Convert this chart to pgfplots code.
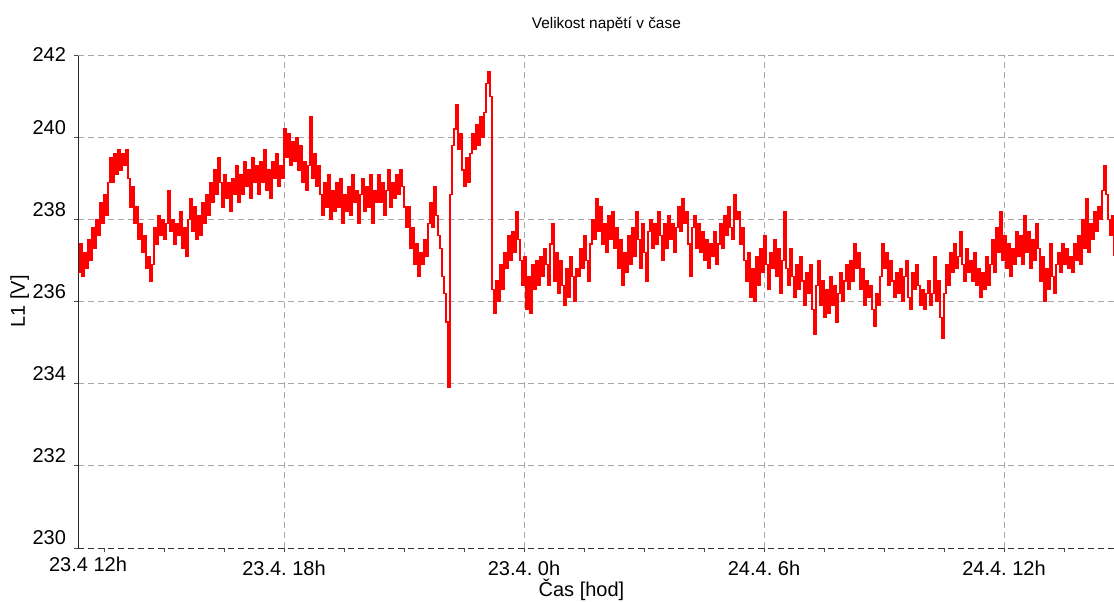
\documentclass[border=0pt]{standalone}
\usepackage{fontspec}
\setmainfont{Liberation Sans}
\usepackage{pgfplots}
\usepackage{pgfplotstable}
\pgfplotsset{compat=1.18}

% L1 voltage, one sample every 3 minutes from 23.4. 12:51
\pgfplotstableread[row sep=\\]{
v\\
236.7\\ 237.4\\ 236.6\\ 237.2\\ 236.8\\ 237.5\\ 237.0\\ 237.8\\ 237.3\\ 238.0\\
237.6\\ 238.4\\ 237.9\\ 238.6\\ 238.1\\ 238.9\\ 239.5\\ 238.9\\ 239.6\\ 239.1\\
239.7\\ 239.2\\ 239.6\\ 239.3\\ 239.7\\ 239.0\\ 238.3\\ 238.8\\ 237.9\\ 238.3\\
237.5\\ 237.9\\ 237.2\\ 237.6\\ 236.8\\ 237.1\\ 236.5\\ 236.9\\ 237.8\\ 237.4\\
238.1\\ 237.6\\ 238.0\\ 237.5\\ 237.9\\ 238.7\\ 237.7\\ 238.0\\ 237.4\\ 237.9\\
237.6\\ 238.2\\ 237.3\\ 237.8\\ 237.1\\ 238.0\\ 238.5\\ 237.7\\ 238.3\\ 237.5\\
238.1\\ 237.6\\ 238.4\\ 237.9\\ 238.6\\ 238.1\\ 238.9\\ 238.4\\ 239.2\\ 238.6\\
239.5\\ 238.9\\ 238.3\\ 239.1\\ 238.5\\ 238.9\\ 238.2\\ 239.0\\ 238.6\\ 239.3\\
238.4\\ 239.1\\ 238.6\\ 239.4\\ 238.8\\ 239.2\\ 238.5\\ 239.5\\ 238.9\\ 239.3\\
238.6\\ 239.4\\ 238.9\\ 239.7\\ 238.7\\ 239.2\\ 238.5\\ 239.4\\ 239.0\\ 239.6\\
238.8\\ 239.3\\ 239.0\\ 240.2\\ 239.5\\ 240.1\\ 239.3\\ 239.9\\ 239.4\\ 240.0\\
239.2\\ 239.8\\ 238.9\\ 239.4\\ 238.7\\ 239.3\\ 240.5\\ 239.0\\ 239.6\\ 238.8\\
239.3\\ 238.6\\ 238.1\\ 238.9\\ 238.3\\ 239.1\\ 238.0\\ 238.7\\ 238.2\\ 238.9\\
238.3\\ 239.0\\ 237.9\\ 238.6\\ 238.2\\ 238.8\\ 238.1\\ 239.1\\ 238.4\\ 238.7\\
237.9\\ 238.6\\ 239.0\\ 238.2\\ 238.8\\ 238.3\\ 239.1\\ 237.9\\ 238.7\\ 238.4\\
239.1\\ 238.4\\ 238.9\\ 238.1\\ 238.7\\ 239.2\\ 238.3\\ 238.9\\ 238.5\\ 239.1\\
238.6\\ 239.2\\ 238.8\\ 238.3\\ 237.8\\ 238.3\\ 237.3\\ 237.8\\ 236.9\\ 237.4\\
236.6\\ 237.2\\ 236.9\\ 237.5\\ 237.1\\ 237.9\\ 238.4\\ 237.8\\ 238.8\\ 238.1\\
237.6\\ 237.3\\ 236.6\\ 236.2\\ 235.5\\ 233.9\\ 238.6\\ 239.8\\ 240.2\\ 240.8\\
239.7\\ 240.1\\ 239.2\\ 238.8\\ 239.5\\ 238.9\\ 239.6\\ 240.1\\ 239.7\\ 240.3\\
239.8\\ 240.5\\ 240.0\\ 240.6\\ 241.3\\ 241.6\\ 241.0\\ 236.3\\ 235.7\\ 236.5\\
236.0\\ 236.9\\ 236.3\\ 237.2\\ 236.8\\ 237.6\\ 237.0\\ 237.7\\ 237.2\\ 238.2\\
237.5\\ 237.0\\ 236.4\\ 237.1\\ 235.8\\ 236.6\\ 235.7\\ 236.9\\ 236.3\\ 237.0\\
236.4\\ 237.1\\ 236.6\\ 237.3\\ 236.9\\ 236.4\\ 237.4\\ 237.9\\ 236.5\\ 237.2\\
236.2\\ 237.0\\ 236.4\\ 235.9\\ 236.8\\ 236.1\\ 237.1\\ 236.6\\ 236.0\\ 236.8\\
236.6\\ 237.3\\ 236.8\\ 237.6\\ 237.0\\ 236.5\\ 237.4\\ 238.0\\ 237.5\\ 238.5\\
237.7\\ 238.3\\ 237.4\\ 237.9\\ 237.2\\ 238.1\\ 237.5\\ 238.2\\ 237.3\\ 237.8\\
236.8\\ 237.5\\ 236.4\\ 237.2\\ 236.7\\ 237.6\\ 236.9\\ 237.8\\ 237.1\\ 238.2\\
237.5\\ 236.8\\ 237.9\\ 237.2\\ 236.5\\ 237.7\\ 238.0\\ 237.3\\ 237.9\\ 237.4\\
238.2\\ 237.6\\ 237.0\\ 237.9\\ 237.3\\ 238.1\\ 237.5\\ 237.9\\ 237.2\\ 237.8\\
238.3\\ 237.7\\ 238.5\\ 237.9\\ 238.2\\ 237.4\\ 236.6\\ 237.8\\ 238.1\\ 237.3\\
237.9\\ 237.2\\ 237.7\\ 237.0\\ 237.5\\ 236.8\\ 237.4\\ 237.1\\ 237.7\\ 236.9\\
237.4\\ 237.9\\ 237.3\\ 238.1\\ 237.6\\ 238.3\\ 237.8\\ 237.5\\ 238.6\\ 238.0\\
238.2\\ 237.4\\ 237.8\\ 237.0\\ 236.5\\ 237.2\\ 236.1\\ 236.8\\ 236.0\\ 237.1\\
236.4\\ 237.3\\ 236.7\\ 237.6\\ 236.9\\ 236.3\\ 237.2\\ 236.8\\ 237.5\\ 236.6\\
237.3\\ 236.2\\ 237.0\\ 238.2\\ 236.8\\ 236.4\\ 237.3\\ 236.6\\ 236.1\\ 236.9\\
236.3\\ 237.1\\ 236.5\\ 235.9\\ 236.7\\ 236.2\\ 236.9\\ 235.8\\ 235.2\\ 236.4\\
237.0\\ 235.9\\ 236.5\\ 235.6\\ 236.3\\ 235.7\\ 236.6\\ 235.9\\ 236.4\\ 235.5\\
236.2\\ 236.7\\ 236.0\\ 236.5\\ 236.9\\ 236.3\\ 237.0\\ 236.5\\ 237.4\\ 236.8\\
237.2\\ 236.3\\ 236.8\\ 235.9\\ 236.5\\ 236.1\\ 236.4\\ 235.8\\ 235.4\\ 236.2\\
235.9\\ 236.6\\ 237.4\\ 236.8\\ 237.2\\ 236.4\\ 237.0\\ 236.5\\ 236.1\\ 236.7\\
236.2\\ 236.8\\ 236.0\\ 236.6\\ 237.0\\ 236.1\\ 235.8\\ 236.7\\ 236.3\\ 236.9\\
236.4\\ 235.9\\ 236.3\\ 235.8\\ 236.2\\ 236.5\\ 235.9\\ 236.2\\ 237.1\\ 236.0\\
236.5\\ 235.6\\ 235.1\\ 236.2\\ 236.9\\ 236.4\\ 237.2\\ 236.7\\ 237.4\\ 236.8\\
237.1\\ 237.7\\ 236.9\\ 236.5\\ 237.3\\ 236.7\\ 237.0\\ 236.5\\ 237.2\\ 236.4\\
236.8\\ 236.1\\ 236.7\\ 236.3\\ 237.1\\ 236.4\\ 236.9\\ 237.5\\ 236.7\\ 237.8\\
237.2\\ 238.2\\ 237.0\\ 237.6\\ 236.8\\ 237.4\\ 236.6\\ 237.3\\ 236.9\\ 237.7\\
237.1\\ 237.6\\ 236.9\\ 238.1\\ 237.2\\ 237.7\\ 236.8\\ 237.5\\ 237.0\\ 237.9\\
237.3\\ 236.5\\ 237.1\\ 236.0\\ 236.8\\ 236.3\\ 237.4\\ 236.6\\ 236.2\\ 236.9\\
237.2\\ 236.7\\ 237.4\\ 236.9\\ 237.3\\ 236.8\\ 237.1\\ 236.7\\ 237.4\\ 237.0\\
237.6\\ 236.9\\ 238.0\\ 237.3\\ 238.5\\ 237.2\\ 237.9\\ 237.5\\ 238.2\\ 237.7\\
238.3\\ 238.0\\ 238.7\\ 239.3\\ 238.6\\ 238.0\\ 237.6\\ 238.1\\ 237.1\\
}\voltage

\begin{document}
\begin{tikzpicture}
\begin{axis}[
  scale only axis,
  width=518pt, height=246.5pt,
  xmin=12.85, xmax=38.75,
  ymin=230, ymax=242,
  axis x line*=bottom, axis y line*=left,
  axis line style={-},
  x axis line style={densely dashed, black!80},
  y axis line style={black!85},
  xtick={18,24,30,36},
  xticklabels={23.4.\ 18h, 23.4.\ 0h, 24.4.\ 6h, 24.4.\ 12h},
  minor xtick={13.5,15,16.5,19.5,21,22.5,25.5,27,28.5,31.5,33,34.5,37.5},
  extra x ticks={13.1},
  extra x tick labels={23.4 12h},
  extra x tick style={grid=none, major tick length=0pt},
  ytick={230,232,...,240},
  extra y ticks={242},
  extra y tick style={grid=major, yticklabel style={yshift=-5pt}},
  tick align=outside,
  major tick length=2pt, minor tick length=2pt,
  tick style={black!70, line width=0.4pt},
  grid=major,
  major grid style={densely dashed, black!35, line width=0.5pt},
  /pgf/number format/assume math mode=true,
  ticklabel style={font=\fontsize{10}{12}\selectfont, text=black},
  yticklabel style={yshift=5pt, xshift=-0.5pt},
  xticklabel style={yshift=-1pt},
  title={Velikost napětí v čase},
  title style={font=\fontsize{7.7}{9}\selectfont, at={(0.51,1)}, anchor=south, yshift=2pt},
  xlabel={Čas [hod]},
  xlabel style={font=\fontsize{10}{12}\selectfont, at={(0.486,0)}, anchor=north, yshift=-12pt},
  ylabel={L1 [V]},
  ylabel style={font=\fontsize{10}{12}\selectfont, at={(0,0.5)}, anchor=south, yshift=21pt},
  clip=true,
]
\addplot[const plot, color=red, line width=0.55pt]
  table[x expr=12.85+0.05*\coordindex, y=v] {\voltage};
\end{axis}
\pgfresetboundingbox
\path ([xshift=-39pt,yshift=-26.5pt]current axis.south west)
  rectangle ([yshift=27.5pt]current axis.north east);
\end{tikzpicture}
\end{document}
